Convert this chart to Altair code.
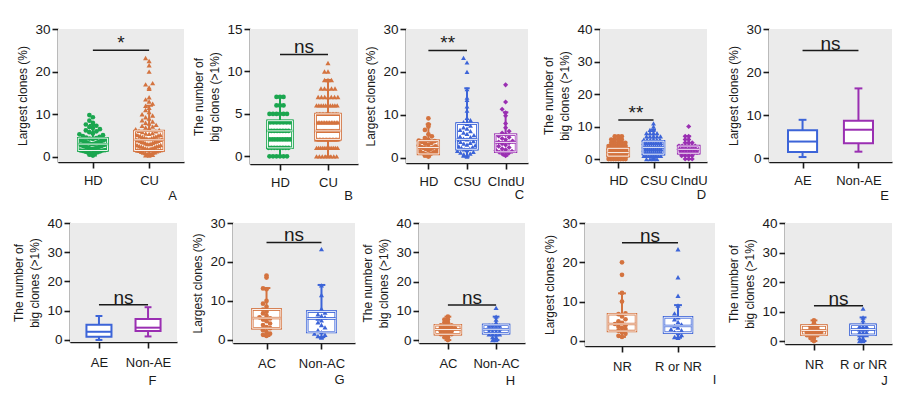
import altair as alt
import pandas as pd

FONT = "Liberation Sans"
INK = "#1a1a1a"
BG = "#ebebeb"
GREEN = "#1ba64f"
ORANGE = "#d4733f"
BLUE = "#3c64d8"
PURPLE = "#9a2fb2"

# ---------------- data ----------------
# stats per group: [whisker low, Q1, median, Q3, whisker high]
# A: largest clone (%), HD vs CU
A_groups = ["HD", "CU"]
A_HD = [0.3, 0.5, 0.6, 0.8, 0.9, 1.0, 1.1, 1.2, 1.3, 1.4, 1.5, 1.5, 1.6, 1.8, 1.9, 2.0, 2.1, 2.2, 2.3, 2.4,
        2.5, 2.6, 2.7, 2.8, 2.9, 3.0, 3.0, 3.1, 3.2, 3.3, 3.4, 3.5, 3.6, 3.7, 3.8, 3.9, 4.0, 4.1, 4.2, 4.3,
        4.4, 4.5, 4.7, 4.9, 5.1, 5.3, 5.5, 5.8, 6.0, 6.2, 6.5, 6.8, 7.0, 7.3, 7.6, 8.0, 8.5, 9.3, 9.8]
A_CU = [0.3, 0.4, 0.5, 0.6, 0.7, 0.8, 0.9, 1.0, 1.0, 1.1, 1.2, 1.3, 1.4, 1.5, 1.5, 1.6, 1.7, 1.8, 1.9, 2.0,
        2.0, 2.1, 2.2, 2.3, 2.4, 2.5, 2.5, 2.6, 2.7, 2.8, 2.9, 3.0, 3.0, 3.1, 3.2, 3.3, 3.4, 3.5, 3.5, 3.6,
        3.7, 3.8, 3.9, 4.0, 4.0, 4.1, 4.2, 4.3, 4.4, 4.5, 4.6, 4.7, 4.8, 4.9, 5.0, 5.1, 5.2, 5.3, 5.4, 5.5,
        5.6, 5.8, 6.0, 6.1, 6.3, 6.5, 6.7, 6.9, 7.1, 7.3, 7.5, 7.8, 8.0, 8.3, 8.6, 9.0, 9.3, 9.7, 10.0, 10.5,
        11.0, 11.5, 12.0, 12.5, 13.0, 13.5, 14.0, 16.0, 16.3, 17.0, 17.3, 20.0, 21.5, 22.5, 23.2]
A_stats = [[0.3, 1.5, 3.0, 4.4, 7.5], [0.3, 1.5, 4.0, 6.1, 12.0]]

# B: number of big clones, HD vs CU (integer values with counts)
B_groups = ["HD", "CU"]
B_HD_vals = [0, 1, 2, 3, 4, 5, 6, 7]
B_HD_counts = [6, 8, 9, 8, 7, 6, 3, 3]
B_CU_vals = [0, 1, 2, 3, 4, 5, 6, 7, 8, 9, 10, 11]
B_CU_counts = [8, 12, 16, 26, 14, 16, 10, 7, 5, 3, 2, 1]
B_stats = [[0, 1, 3, 4.2, 7], [0, 2, 3, 5, 9]]

# C: largest clone (%), HD / CSU / CIndU
C_groups = ["HD", "CSU", "CIndU"]
C_HD = [0.3, 0.5, 0.7, 0.8, 1.0, 1.1, 1.3, 1.5, 1.6, 1.8, 2.0, 2.1, 2.3, 2.4, 2.5, 2.7, 2.9, 3.1, 3.3, 3.5,
        3.7, 3.9, 4.0, 4.2, 4.6, 5.0, 5.5, 6.5, 7.3, 7.8, 9.2]
C_CSU = [0.3, 0.5, 0.6, 0.8, 1.0, 1.2, 1.4, 1.6, 1.8, 2.0, 2.1, 2.3, 2.5, 2.7, 2.9, 3.1, 3.3, 3.5, 3.7, 3.9,
         4.1, 4.3, 4.5, 4.8, 5.0, 5.3, 5.6, 5.9, 6.2, 6.5, 6.8, 7.1, 7.5, 7.9, 8.3, 8.8, 9.3, 11.0, 12.0,
         13.5, 14.0, 16.0, 20.0, 22.2, 23.3]
C_CIndU = [0.5, 0.7, 0.9, 1.1, 1.3, 1.5, 1.7, 1.9, 2.1, 2.4, 2.7, 3.0, 3.3, 3.5, 3.7, 3.9, 4.2, 4.5, 4.8,
           5.1, 5.4, 5.8, 6.2, 7.0, 8.0, 9.8, 10.5, 11.3, 13.0, 17.0]
C_stats = [[0.3, 0.9, 2.4, 4.0, 7.8], [0.3, 2.0, 4.3, 8.0, 16.2], [0.5, 1.4, 3.6, 5.4, 10.6]]

# D: number of big clones, HD / CSU / CIndU
D_groups = ["HD", "CSU", "CIndU"]
D_HD_vals = [0, 1, 2, 3, 4, 5, 6, 7]
D_HD_counts = [8, 14, 16, 12, 8, 5, 4, 3]
D_CSU_vals = [0, 1, 2, 3, 4, 5, 6, 7, 8, 9, 10, 11]
D_CSU_counts = [4, 8, 10, 10, 10, 8, 6, 5, 4, 2, 1, 1]
D_CIndU_vals = [0, 1, 2, 3, 4, 5, 6, 7, 10]
D_CIndU_counts = [3, 4, 7, 8, 6, 3, 2, 2, 1]
D_stats = [[0, 0.9, 2.0, 3.3, 7], [0, 1.5, 3.6, 5.5, 9], [0, 1.8, 3.0, 4.0, 7]]

# E / F: AE vs Non-AE (boxes only)
E_groups = ["AE", "Non-AE"]
E_stats = [[0.25, 1.4, 3.85, 6.5, 8.9], [1.5, 3.45, 6.6, 8.7, 16.2]]
F_groups = ["AE", "Non-AE"]
F_stats = [[0, 1.1, 2.8, 5.2, 8.2], [1.2, 3.1, 4.2, 7.2, 11.2]]

# G: largest clone (%), AC vs Non-AC
G_groups = ["AC", "Non-AC"]
G_AC = [1.0, 1.3, 1.6, 2.0, 2.5, 3.0, 3.3, 3.8, 4.2, 4.8, 5.2, 5.5, 5.8, 6.2, 6.8, 7.2, 7.8, 8.5, 9.3, 10.0,
        13.0, 13.2, 16.0, 16.5]
G_NonAC = [0.6, 0.8, 1.0, 1.3, 1.6, 2.0, 2.5, 3.2, 3.8, 4.5, 5.0, 5.5, 5.8, 6.2, 6.6, 7.0, 8.0, 11.5, 14.0, 23.3]
G_stats = [[1.0, 3.0, 5.6, 7.8, 13.3], [0.7, 2.0, 5.5, 7.3, 14.1]]

# H: number of big clones, AC vs Non-AC
H_groups = ["AC", "Non-AC"]
H_AC_vals = [0, 1, 2, 3, 4, 5, 6, 7, 8]
H_AC_counts = [1, 2, 4, 4, 5, 4, 2, 2, 1]
H_NonAC_vals = [0, 1, 2, 3, 4, 5, 6, 7, 8, 11]
H_NonAC_counts = [2, 2, 4, 4, 4, 4, 1, 1, 1, 1]
H_stats = [[0, 2, 3.6, 5.1, 8], [0, 2.3, 3.7, 5.2, 8]]

# I: largest clone (%), NR vs R or NR
I_groups = ["NR", "R or NR"]
I_NR = [1.0, 1.3, 1.8, 2.2, 2.6, 3.0, 3.3, 3.6, 4.0, 4.3, 4.6, 5.0, 5.5, 6.2, 6.8, 7.0, 10.0, 12.2, 16.8, 20.0]
I_RNR = [0.8, 1.0, 1.5, 2.0, 2.3, 2.7, 3.0, 3.4, 3.8, 4.2, 4.8, 5.5, 6.0, 7.0, 9.0, 11.5, 16.2, 23.3]
I_stats = [[1.0, 2.5, 4.3, 6.8, 12.1], [0.8, 2.1, 3.8, 6.0, 9.1]]

# J: number of big clones, NR vs R or NR
J_groups = ["NR", "R or NR"]
J_NR_vals = [0, 1, 2, 3, 4, 5, 6, 7]
J_NR_counts = [1, 2, 4, 5, 3, 3, 1, 1]
J_RNR_vals = [0, 1, 2, 3, 4, 5, 7, 8, 11]
J_RNR_counts = [2, 2, 3, 3, 3, 3, 1, 1, 1]
J_stats = [[0, 2.1, 3.6, 5.3, 7], [0, 2.1, 3.9, 5.5, 8]]

# significance brackets: [group i, group j, level, label]
A_sig = [0, 1, 25, "*"]
B_sig = [0, 1, 12, "ns"]
C_sig = [0, 1, 25, "**"]
D_sig = [0, 1, 12, "**"]
E_sig = [0, 1, 25, "ns"]
F_sig = [0, 1, 12, "ns"]
G_sig = [0, 1, 25, "ns"]
H_sig = [0, 1, 12, "ns"]
I_sig = [0, 1, 25, "ns"]
J_sig = [0, 1, 12, "ns"]

PCT = "Largest clones (%)"
NUM = ["The number of", "big clones (>1%)"]


def expand(vals, counts):
    return [v for v, c in zip(vals, counts) for _ in range(c)]


# ---------------- layout (pixels) ----------------
# column widths: 175, 173, 179, 184, 123 ; off = axis shift inside the column
LAY = {
    "A": dict(gray=126, vw=175, off=0, h=133, pad=0.62, bw=0.26, ymin=-1.2, binw=1.2, dx=0.0625, lpad=6, lx=114, ly=37.5),
    "B": dict(gray=108, vw=173, off=17, h=135, pad=0.625, bw=0.26, ymin=-0.9, binw=1, dx=0.073, lpad=6, lx=115, ly=35.5),
    "C": dict(gray=122, vw=179, off=0, h=134, pad=0.58, bw=0.27, ymin=-1.2, binw=1.2, dx=0.09, lpad=6, lx=113, ly=35.5),
    "D": dict(gray=107, vw=184, off=15, h=133, pad=0.52, bw=0.3, ymin=-0.9, binw=1, dx=0.1, lpad=6, lx=116, ly=36.5),
    "E": dict(gray=123, vw=123, off=0, h=133, pad=0.6, bw=0.26, ymin=-0.9, binw=1, dx=0.06, lpad=6, lx=115, ly=37.5),
    "F": dict(gray=107, vw=175, off=12, h=119, pad=0.59, bw=0.255, ymin=-0.7, binw=1, dx=0.07, lpad=8.5, lx=94, ly=42.5),
    "G": dict(gray=122, vw=173, off=0, h=120, pad=0.61, bw=0.26, ymin=-0.8, binw=1.3, dx=0.064, lpad=8.5, lx=106, ly=40.5),
    "H": dict(gray=106, vw=179, off=13, h=120, pad=0.6, bw=0.27, ymin=-1.0, binw=1, dx=0.073, lpad=8.5, lx=104, ly=41.5),
    "I": dict(gray=130, vw=184, off=0, h=123, pad=0.66, bw=0.25, ymin=-1.3, binw=1.3, dx=0.0625, lpad=8.5, lx=129, ly=37.5),
    "J": dict(gray=107, vw=123, off=16, h=121, pad=0.59, bw=0.255, ymin=-1.0, binw=1, dx=0.071, lpad=8.5, lx=115, ly=40.5),
}

SIZE = {"circle": 22, "triangle-up": 26, "diamond": 16}


def panel(letter, groups, colors, shapes, pts, stats, ymax, yticks, ytitle, sig):
    L = LAY[letter]
    n = len(groups)
    off = L["off"]
    xs = alt.Scale(domain=[-L["pad"], n - 1 + L["pad"]], range=[off, off + L["gray"]], nice=False, zero=False)
    ys = alt.Scale(domain=[L["ymin"], ymax], nice=False, zero=False)
    cs = alt.Scale(domain=groups, range=colors)
    names = ",".join("'" + g + "'" for g in groups)
    xaxis = alt.Axis(values=list(range(n)), labelExpr="[" + names + "][datum.value]", grid=False,
                     domainColor=INK, domainWidth=1.6, tickColor=INK, tickWidth=1.6, tickSize=6,
                     labelFont=FONT, labelFontSize=13, labelColor=INK, labelPadding=L["lpad"],
                     labelFlush=False, labelAngle=0, labelOverlap=False,
                     title=letter, titleFont=FONT, titleFontSize=13, titleFontWeight="normal",
                     titleColor=INK, titleX=L["lx"], titleY=L["ly"], titleAlign="center",
                     titleBaseline="alphabetic", titleAngle=0)
    yaxis = alt.Axis(values=yticks, grid=False, domainColor=INK, domainWidth=1.6, tickColor=INK,
                     tickWidth=1.6, tickSize=6, labelFont=FONT, labelFontSize=13.5, labelColor=INK,
                     labelPadding=2, offset=-off, minExtent=26, maxExtent=26, labelOverlap=False,
                     title=ytitle, titleFont=FONT, titleFontSize=12, titleFontWeight="normal",
                     titleColor=INK, titlePadding=3, titleLineHeight=16)

    st = pd.DataFrame({"g": groups, "idx": list(range(n)),
                       "lo": [s[0] for s in stats], "q1": [s[1] for s in stats],
                       "med": [s[2] for s in stats], "q3": [s[3] for s in stats],
                       "hi": [s[4] for s in stats]})
    bw = L["bw"]
    base = alt.Chart(st).transform_calculate(
        xl=f"datum.idx - {bw}", xr=f"datum.idx + {bw}",
        cl=f"datum.idx - 0.07", cr=f"datum.idx + 0.07")
    col = alt.Color("g:N", scale=cs, legend=None)
    stroke = alt.Stroke("g:N", scale=cs, legend=None)

    def X(f):
        return alt.X(f + ":Q", scale=xs, axis=xaxis)

    def Y(f):
        return alt.Y(f + ":Q", scale=ys, axis=yaxis)

    bgdf = pd.DataFrame({"x0": [-L["pad"]], "x1": [n - 1 + L["pad"]], "y0": [L["ymin"]], "y1": [ymax]})
    bg = alt.Chart(bgdf).mark_rect(fill=BG).encode(
        x=X("x0"), x2="x1", y=Y("y0"), y2="y1")

    has_pts = any(len(p) > 0 for p in pts)
    lw = 2.0
    layers = [bg]
    layers.append(base.mark_rule(strokeWidth=lw).encode(x=X("idx"), y=Y("lo"), y2="q1", color=col))
    layers.append(base.mark_rule(strokeWidth=lw).encode(x=X("idx"), y=Y("q3"), y2="hi", color=col))
    layers.append(base.mark_rule(strokeWidth=lw).encode(x=X("cl"), x2="cr", y=Y("lo"), color=col))
    layers.append(base.mark_rule(strokeWidth=lw).encode(x=X("cl"), x2="cr", y=Y("hi"), color=col))
    layers.append(base.mark_rect(fill="white", strokeWidth=lw).encode(
        x=X("xl"), x2="xr", y=Y("q1"), y2="q3", stroke=stroke))
    layers.append(base.mark_rule(strokeWidth=lw).encode(x=X("xl"), x2="xr", y=Y("med"), color=col))

    if has_pts:
        rows = []
        for i, (g, vals) in enumerate(zip(groups, pts)):
            for v in vals:
                rows.append({"g": g, "idx": i, "v": v})
        pdf = pd.DataFrame(rows)
        sizes = [SIZE[s] for s in shapes]
        dx = L["dx"]
        maxw = 2 * bw * 0.92
        ptl = (alt.Chart(pdf)
               .transform_calculate(yb=f"floor(datum.v / {L['binw']} + 0.5)")
               .transform_window(rk="row_number()", groupby=["g", "yb"])
               .transform_joinaggregate(cnt="count()", groupby=["g", "yb"])
               .transform_calculate(
                   k="datum.rk % 2 == 1 ? (datum.rk - 1) / 2 : -datum.rk / 2",
                   px=f"datum.idx + datum.k * min({dx}, {maxw} / datum.cnt)")
               .mark_point(filled=True, opacity=1)
               .encode(x=X("px"), y=Y("v"), color=col,
                       shape=alt.Shape("g:N", scale=alt.Scale(domain=groups, range=shapes), legend=None),
                       size=alt.Size("g:N", scale=alt.Scale(domain=groups, range=sizes), legend=None)))
        layers.append(ptl)
        layers.append(base.mark_rect(fillOpacity=0, strokeWidth=2.4).encode(
            x=X("xl"), x2="xr", y=Y("q1"), y2="q3", stroke=stroke))
        layers.append(base.mark_rect(fillOpacity=0, stroke="white", strokeWidth=0.9).encode(
            x=X("xl"), x2="xr", y=Y("q1"), y2="q3"))
        layers.append(base.mark_rule(strokeWidth=2.4).encode(x=X("xl"), x2="xr", y=Y("med"), color=col))
        layers.append(base.mark_rule(strokeWidth=0.9, color="white").encode(x=X("xl"), x2="xr", y=Y("med")))

    sdf = pd.DataFrame({"a": [sig[0]], "b": [sig[1]], "m": [(sig[0] + sig[1]) / 2], "y": [sig[2]], "t": [sig[3]]})
    sc = alt.Chart(sdf)
    layers.append(sc.mark_rule(color=INK, strokeWidth=1.5).encode(x=X("a"), x2="b", y=Y("y")))
    layers.append(sc.mark_text(font=FONT, fontSize=19, baseline="alphabetic", dy=-1, color=INK).encode(
        x=X("m"), y=Y("y"), text="t:N"))

    return alt.layer(*layers).properties(width=L["vw"], height=L["h"])


pA = panel("A", A_groups, [GREEN, ORANGE], ["circle", "triangle-up"], [A_HD, A_CU], A_stats,
           30, [0, 10, 20, 30], PCT, A_sig)
pB = panel("B", B_groups, [GREEN, ORANGE], ["circle", "triangle-up"],
           [expand(B_HD_vals, B_HD_counts), expand(B_CU_vals, B_CU_counts)], B_stats,
           15, [0, 5, 10, 15], NUM, B_sig)
pC = panel("C", C_groups, [ORANGE, BLUE, PURPLE], ["circle", "triangle-up", "diamond"],
           [C_HD, C_CSU, C_CIndU], C_stats, 30, [0, 10, 20, 30], PCT, C_sig)
pD = panel("D", D_groups, [ORANGE, BLUE, PURPLE], ["circle", "triangle-up", "diamond"],
           [expand(D_HD_vals, D_HD_counts), expand(D_CSU_vals, D_CSU_counts),
            expand(D_CIndU_vals, D_CIndU_counts)], D_stats, 40, [0, 10, 20, 30, 40], NUM, D_sig)
pE = panel("E", E_groups, [BLUE, PURPLE], ["circle", "circle"], [[], []], E_stats,
           30, [0, 10, 20, 30], PCT, E_sig)
pF = panel("F", F_groups, [BLUE, PURPLE], ["circle", "circle"], [[], []], F_stats,
           40, [0, 10, 20, 30, 40], NUM, F_sig)
pG = panel("G", G_groups, [ORANGE, BLUE], ["circle", "triangle-up"], [G_AC, G_NonAC], G_stats,
           30, [0, 10, 20, 30], PCT, G_sig)
pH = panel("H", H_groups, [ORANGE, BLUE], ["circle", "triangle-up"],
           [expand(H_AC_vals, H_AC_counts), expand(H_NonAC_vals, H_NonAC_counts)], H_stats,
           40, [0, 10, 20, 30, 40], NUM, H_sig)
pI = panel("I", I_groups, [ORANGE, BLUE], ["circle", "triangle-up"], [I_NR, I_RNR], I_stats,
           30, [0, 10, 20, 30], PCT, I_sig)
pJ = panel("J", J_groups, [ORANGE, BLUE], ["circle", "triangle-up"],
           [expand(J_NR_vals, J_NR_counts), expand(J_RNR_vals, J_RNR_counts)], J_stats,
           40, [0, 10, 20, 30, 40], NUM, J_sig)

chart = (alt.concat(pA, pB, pC, pD, pE, pF, pG, pH, pI, pJ, columns=5,
                    spacing={"row": 59, "column": 0}, bounds="flush", align="each")
         .resolve_scale(color="independent", stroke="independent", shape="independent",
                        size="independent", x="independent", y="independent")
         .properties(padding={"left": 4, "top": 14, "right": 5, "bottom": 5}, background="white")
         .configure_view(strokeWidth=0))

chart.save("out.html", embed_options={"renderer": "svg", "actions": False})
